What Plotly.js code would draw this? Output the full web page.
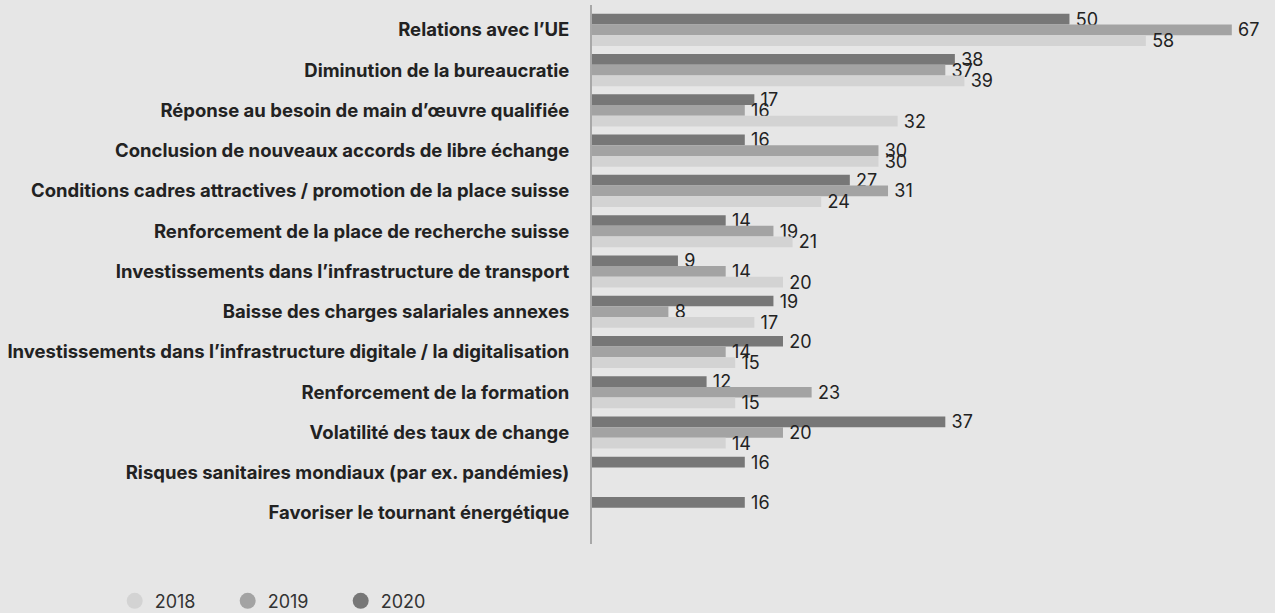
<!DOCTYPE html>
<html>
<head>
<meta charset="utf-8">
<script src="https://cdn.plot.ly/plotly-3.0.1.min.js"></script>
<style>
html,body{margin:0;padding:0;background:#e6e6e6;}
#chart{width:1275px;height:613px;}
</style>
</head>
<body>
<div id="chart"></div>
<script>
const categories = [
  "Relations avec l’UE",
  "Diminution de la bureaucratie",
  "Réponse au besoin de main d’œuvre qualifiée",
  "Conclusion de nouveaux accords de libre échange",
  "Conditions cadres attractives / promotion de la place suisse",
  "Renforcement de la place de recherche suisse",
  "Investissements dans l’infrastructure de transport",
  "Baisse des charges salariales annexes",
  "Investissements dans l’infrastructure digitale / la digitalisation",
  "Renforcement de la formation",
  "Volatilité des taux de change",
  "Risques sanitaires mondiaux (par ex. pandémies)",
  "Favoriser le tournant énergétique"
];
const values2018 = [58, 39, 32, 30, 24, 21, 20, 17, 15, 15, 14, null, null];
const values2019 = [67, 37, 16, 30, 31, 19, 14, 8, 14, 23, 20, null, null];
const values2020 = [50, 38, 17, 16, 27, 14, 9, 19, 20, 12, 37, 16, 16];
const years = ["2018", "2019", "2020"];
const colors = {"2018": "#d3d3d3", "2019": "#a3a3a3", "2020": "#777777"};

function barTrace(name, vals) {
  return {
    type: "bar", orientation: "h", name: name,
    y: categories, x: vals,
    marker: {color: colors[name]},
    text: vals.map(v => v == null ? "" : "\u2009" + String(v)),
    textposition: "outside",
    constraintext: "none",
    cliponaxis: false,
    textfont: {family: "Inter, Roboto, sans-serif", size: 18, color: "#222"},
    showlegend: false,
    hoverinfo: "x+y"
  };
}
function legendTrace(name) {
  return {
    type: "scatter", mode: "markers", name: name,
    x: [null], y: [null],
    marker: {color: colors[name], size: 19, symbol: "circle"},
    showlegend: true
  };
}
const data = [
  barTrace("2020", values2020),
  barTrace("2019", values2019),
  barTrace("2018", values2018),
  legendTrace("2018"), legendTrace("2019"), legendTrace("2020")
];
const layout = {
  width: 1275, height: 613,
  paper_bgcolor: "#e6e6e6", plot_bgcolor: "#e6e6e6",
  margin: {l: 592, r: 5, t: 5, b: 69, autoexpand: false},
  barmode: "group", bargap: 0.2, bargroupgap: 0,
  font: {family: "Inter, Roboto, sans-serif", color: "#222"},
  xaxis: {range: [0, 71], visible: false, fixedrange: true},
  yaxis: {
    type: "category",
    range: [12.77, -0.62],
    showline: true, linecolor: "#a8a8a8", linewidth: 2,
    showgrid: false, zeroline: false, ticks: "",
    ticklabelstandoff: 17,
    tickfont: {family: "Inter, Roboto, sans-serif", size: 18.5, color: "#222", weight: 700}
  },
  showlegend: true,
  legend: {
    orientation: "h", x: -0.704, xanchor: "left", y: -0.106, yanchor: "middle",
    font: {family: "Inter, Roboto, sans-serif", size: 18, color: "#333"},
    entrywidth: 68, entrywidthmode: "pixels", bgcolor: "rgba(0,0,0,0)",
    itemsizing: "trace"
  }
};
Plotly.newPlot("chart", data, layout, {displayModeBar: false, staticPlot: true});
</script>
</body>
</html>
